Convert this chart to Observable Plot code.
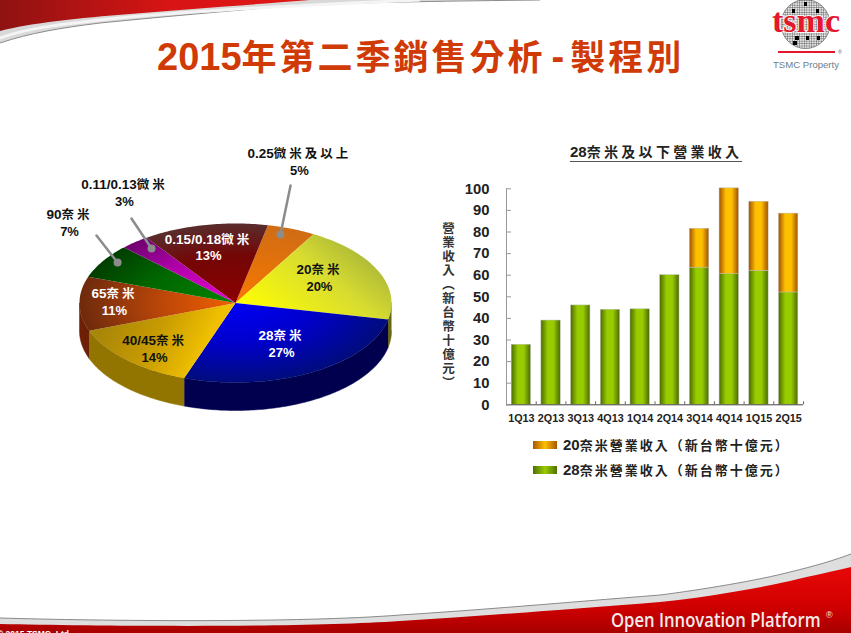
<!DOCTYPE html>
<html lang="zh-Hant">
<head>
<meta charset="utf-8">
<script src="https://cdn.jsdelivr.net/npm/d3@7"></script>
<script src="https://cdn.jsdelivr.net/npm/@observablehq/plot@0.6"></script>
<style>
  html, body { margin: 0; padding: 0; background: #fff; }
  #page {
    position: relative; width: 851px; height: 633px; overflow: hidden; background: #fff;
    font-family: "Liberation Sans", "Noto Sans CJK TC", sans-serif; font-weight: 700; color: #222;
  }
  #page > * { position: absolute; }
  #titulo { left: 157px; top: 37px; margin: 0; font-size: 38px; line-height: 40px; color: #cf3a06; white-space: nowrap; }
  #sub { left: 570px; top: 143px; width: 172px; font-size: 15px; line-height: 18px; color: #222; white-space: nowrap; border-bottom: 1px solid #555; }
  #ylabel { left: 440px; top: 222px; writing-mode: vertical-rl; font-size: 12.5px; letter-spacing: 1.5px; line-height: 14px; color: #333; white-space: nowrap; font-weight: 700; }
  .ley { left: 533px; width: 300px; height: 20px; font-size: 15px; line-height: 20px; white-space: nowrap; color: #222; }
  .ley i { position: absolute; left: 0; top: 6px; width: 24px; height: 8px; }
  .ley span.t { position: absolute; left: 30px; top: 0; }
</style>
</head>
<body>
<div id="page">
  <svg id="deco" width="851" height="633" style="left:0;top:0">
    <defs>
      <linearGradient id="rojoTop" x1="0" x2="1" y1="0" y2="0">
        <stop offset="0" stop-color="#8f1212"/><stop offset=".55" stop-color="#d81414"/><stop offset="1" stop-color="#e01616"/>
      </linearGradient>
      <linearGradient id="rojoPie" x1="0" x2="0" y1="0" y2="1">
        <stop offset="0" stop-color="#e80808"/><stop offset=".6" stop-color="#d00000"/><stop offset="1" stop-color="#a80000"/>
      </linearGradient>
      <pattern id="rejilla" width="2.4" height="2.4" patternUnits="userSpaceOnUse">
        <rect width="2.4" height="2.4" fill="#e8e8e8"/>
        <path d="M0,0H2.4M0,0V2.4" stroke="#333" stroke-width=".7"/>
      </pattern>
    </defs>
    <!-- cabecera -->
    <path d="M0,43 C30,33 60,28 100,23 C170,16 240,10 300,5 C380,2 450,1 540,0 L0,0 Z" fill="#d8d8d8"/>
    <path d="M0,43 C30,33 60,28 100,23 C170,16 240,10 300,5 C380,2 450,1 540,0" fill="none" stroke="#8c8c8c" stroke-width="1"/>
    <path d="M0,38 C30,27 70,23 130,17 C210,10 300,5 420,0" fill="none" stroke="#f4f4f4" stroke-width="3"/>
    <path d="M0,31 C30,23 80,18 130,14 C190,9 260,4 310,0 L0,0 Z" fill="url(#rojoTop)"/>
    <!-- pie -->
    <path d="M0,618 C100,621 300,623 400,615 C480,610 560,603 660,595 C700,590 760,580 790,572 C815,566 835,560 851,554 L851,633 L0,633 Z" fill="#dedede"/>
    <path d="M0,618 C100,621 300,623 400,615 C480,610 560,603 660,595 C700,590 760,580 790,572 C815,566 835,560 851,554" fill="none" stroke="#8a8a8a" stroke-width="1"/>
    <path d="M0,624 C100,626 300,628 400,621 C480,616 560,610 660,602 C700,598 760,588 790,581 C815,575 835,571 851,567 L851,633 L0,633 Z" fill="url(#rojoPie)"/>
    <text x="-3" y="637" fill="#fff" font-size="8.5" font-weight="700">© 2015 TSMC, Ltd</text>
    <text transform="translate(611,627) scale(.85,1)" fill="#f4eaea" font-family="Open Sans" font-size="19.6" font-weight="600">Open Innovation Platform</text>
    <text x="826" y="618" fill="#f4eaea" font-size="9" font-weight="400">®</text>
    <!-- logo -->
    <ellipse cx="805.5" cy="24" rx="24.5" ry="24.5" fill="url(#rejilla)" stroke="#555" stroke-width=".6"/>
    <g fill="#000">
      <rect x="804" y="2" width="3" height="4"/><rect x="816" y="9" width="3" height="4"/><rect x="792" y="9" width="3" height="4"/>
      <rect x="795" y="36" width="4" height="4"/><rect x="793" y="41" width="4" height="4"/><rect x="806" y="36" width="3" height="4"/><rect x="817" y="36" width="3" height="4"/>
    </g>
    <text x="772" y="32" font-family="Liberation Serif" font-weight="700" font-size="33" fill="#e3172d" stroke="#fff" stroke-width="1.6" paint-order="stroke" textLength="68" lengthAdjust="spacingAndGlyphs">tsmc</text>
    <rect x="778" y="51" width="57" height="2" fill="#e3172d"/>
    <text x="838" y="54" font-size="5" fill="#555" font-weight="400">®</text>
    <text x="773" y="68" font-size="9.6" fill="#6d7e8a" font-weight="400" textLength="66">TSMC Property</text>
  </svg>

  <h1 id="titulo">2015年第二季銷售分析-製程別</h1>
  <div id="sub">28奈米及以下營業收入</div>
  <div id="ylabel">營業收入（新台幣十億元）</div>
  <div id="tarta" style="left:0;top:130px"></div>
  <div id="barras" style="left:430px;top:170px"></div>
  <div class="ley" style="top:435px"><i style="background:linear-gradient(90deg,#a85600,#ffc000 50%,#a85600)"></i><span class="t" id="ley20"></span></div>
  <div class="ley" style="top:460px"><i style="background:linear-gradient(90deg,#4f7000,#99cc00 50%,#4f7000)"></i><span class="t" id="ley28"></span></div>
</div>

<script>
  // Tarta: reparto por proceso, en sentido horario desde 0.25 micras
  const NODOS = ["0.25微米及以上", "20奈米", "28奈米", "40/45奈米", "65奈米", "90奈米", "0.11/0.13微米", "0.15/0.18微米"];
  const CUOTAS = [5, 20, 27, 14, 11, 7, 3, 13];

  // Barras
  const TRIMESTRES = ["1Q13", "2Q13", "3Q13", "4Q13", "1Q14", "2Q14", "3Q14", "4Q14", "1Q15", "2Q15"];
  const REV_28 = [27.8, 39, 46, 44, 44.2, 60, 63.5, 60.5, 62, 52];
  const REV_20 = [0, 0, 0, 0, 0, 0, 18, 39.7, 32, 36.5];
  const TICKS_Y = [0, 10, 20, 30, 40, 50, 60, 70, 80, 90, 100];
  const LEYENDA_20 = "20奈米營業收入（新台幣十億元）";
  const LEYENDA_28 = "28奈米營業收入（新台幣十億元）";

  // Estilo de la tarta, por porción
  const INICIO = 12;      // grados
  const GROSOR = 0.352;   // canto, en radios verticales
  const COLOR_TEXTO = ["#111", "#111", "#fff", "#111", "#fff", "#111", "#111", "#fff"];
  const POS_ETIQUETA = [[.41, 1.767], [.538, .308], [.295, -.522], [-.519, -.585], [-.776, .006], [-1.064, 1], [-.712, 1.377], [-.173, .694]];
  const GUIAS = { 0: [[.288, .862], [.353, 1.478]], 5: [[-.756, .509], [-.891, .849]], 6: [[-.538, .686], [-.667, 1.063]] };
  const CANTOS = ["#8a4a08", "#66660f", "#00004f", "#927400", "#6e2006", "#003000", "#600060", "#500000"];

  const CJK = /([\u3000-\u9fff\uff00-\uffef]+)/;

  // Separa los tramos CJK en tspans para darles su propio cuerpo y espaciado
  function espaciarSvg(el, size, gap) {
    const partes = el.textContent.split(CJK).filter((p) => p);
    el.textContent = "";
    partes.forEach((p) => {
      const t = document.createElementNS("http://www.w3.org/2000/svg", "tspan");
      t.textContent = p;
      if (CJK.test(p)) { t.setAttribute("font-size", size); t.setAttribute("letter-spacing", gap); }
      el.appendChild(t);
    });
  }

  function espaciarHtml(el, texto, size, gap) {
    el.innerHTML = "";
    texto.split(CJK).filter((p) => p).forEach((p) => {
      const s = document.createElement("span");
      s.textContent = p;
      if (CJK.test(p)) { s.style.fontSize = size + "px"; s.style.letterSpacing = gap + "px"; }
      if (p === "-") s.style.padding = "0 6px";
      el.appendChild(s);
    });
  }

  function punto(a, caida) {
    const r = a * Math.PI / 180;
    return { x: Math.sin(r), y: Math.cos(r) - (caida || 0) };
  }

  function arco(a0, a1, caida) {
    const n = Math.max(2, Math.ceil(Math.abs(a1 - a0)));
    return d3.range(n + 1).map((i) => punto(a0 + (a1 - a0) * i / n, caida));
  }

  function gradienteRadial(defs, id, stops) {
    const g = defs.append("radialGradient").attr("id", id).attr("gradientUnits", "userSpaceOnUse")
      .attr("cx", 0).attr("cy", 0).attr("r", 156)
      .attr("gradientTransform", "translate(235,172.5) scale(1,.51)");
    stops.forEach(([o, c]) => g.append("stop").attr("offset", o).attr("stop-color", c));
  }

  function gradienteLineal(defs, id, x1, y1, x2, y2, stops) {
    const g = defs.append("linearGradient").attr("id", id).attr("gradientUnits", "userSpaceOnUse")
      .attr("x1", x1).attr("y1", y1).attr("x2", x2).attr("y2", y2);
    stops.forEach(([o, c]) => g.append("stop").attr("offset", o).attr("stop-color", c));
  }

  function defsTarta() {
    const defs = d3.create("svg:defs");
    gradienteRadial(defs, "s0", [[0, "#f87800"], [1, "#d06c14"]]);
    gradienteLineal(defs, "s1", 340, 75, 250, 185, [[0, "#98a83c"], [.45, "#d8dc30"], [1, "#ffff00"]]);
    gradienteRadial(defs, "s2", [[0, "#0000f5"], [.5, "#0000cc"], [1, "#000c7c"]]);
    gradienteLineal(defs, "s3", 100, 200, 190, 245, [[0, "#a88608"], [.5, "#c69a02"], [1, "#f0c000"]]);
    gradienteRadial(defs, "s4", [[0, "#f06000"], [.45, "#c04808"], [1, "#6e2a0c"]]);
    gradienteRadial(defs, "s5", [[0, "#008400"], [.6, "#006600"], [1, "#003e00"]]);
    gradienteRadial(defs, "s6", [[0, "#e800d8"], [.6, "#b000a8"], [1, "#700070"]]);
    gradienteRadial(defs, "s7", [[0, "#8c0000"], [.6, "#740606"], [1, "#5a2c2c"]]);
    return defs.node();
  }

  function dibujarTarta() {
    const bordes = d3.cumsum(CUOTAS).map((c) => INICIO + c * 3.6);
    const porciones = NODOS.map((nombre, i) => ({
      nombre, i,
      pct: CUOTAS[i] + "%",
      a0: i ? bordes[i - 1] : INICIO,
      a1: bordes[i],
      lx: POS_ETIQUETA[i][0],
      ly: POS_ETIQUETA[i][1],
      color: COLOR_TEXTO[i],
    }));

    // Canto visible: solo la mitad delantera de la elipse
    const cantos = porciones.flatMap((p) => {
      const a0 = Math.max(p.a0, 90), a1 = Math.min(p.a1, 270);
      if (a1 <= a0) return [];
      return Plot.line([...arco(a0, a1), ...arco(a1, a0, GROSOR)], {
        x: "x", y: "y", fill: CANTOS[p.i], stroke: CANTOS[p.i], strokeWidth: 0.5,
      });
    });

    const caras = porciones.map((p) =>
      Plot.line([{ x: 0, y: 0 }, ...arco(p.a0, p.a1), { x: 0, y: 0 }], {
        x: "x", y: "y", fill: `url(#s${p.i})`, stroke: "none",
      })
    );

    const guias = Object.values(GUIAS).map(([a, b]) =>
      Plot.line([{ x: a[0], y: a[1] }, { x: b[0], y: b[1] }], { x: "x", y: "y", stroke: "#8c8c8c", strokeWidth: 2.5 })
    );
    const puntos = Plot.dot(Object.values(GUIAS).map(([a]) => ({ x: a[0], y: a[1] })), {
      x: "x", y: "y", r: 4, fill: "#8c8c8c", stroke: "none",
    });

    const svg = Plot.plot({
      width: 420, height: 300,
      margin: 0,
      style: { background: "transparent", overflow: "visible", fontFamily: '"Liberation Sans","Noto Sans CJK TC",sans-serif', fontWeight: 700 },
      x: { domain: [-1, 1], range: [79, 391], axis: null },
      y: { domain: [-1, 1], range: [252, 93], axis: null },
      marks: [
        defsTarta,
        ...cantos,
        ...caras,
        ...guias,
        puntos,
        Plot.text(porciones, { x: "lx", y: "ly", text: "nombre", dy: -8.5, fill: "color", fontSize: 13.5, className: "nombre" }),
        Plot.text(porciones, { x: "lx", y: "ly", text: "pct", dy: 8.5, fill: "color", fontSize: 13 }),
      ],
    });
    svg.querySelectorAll(".nombre text").forEach((t) => espaciarSvg(t, 12.5, 3));
    document.getElementById("tarta").appendChild(svg);
  }

  function defsBarras() {
    const defs = d3.create("svg:defs");
    const barra = (id, borde, centro) => {
      const g = defs.append("linearGradient").attr("id", id).attr("x1", 0).attr("x2", 1).attr("y1", 0).attr("y2", 0);
      [[0, borde], [.35, centro], [.65, centro], [1, borde]].forEach(([o, c]) =>
        g.append("stop").attr("offset", o).attr("stop-color", c));
    };
    barra("verde", "#4a6a00", "#99cc00");
    barra("naranja", "#a05000", "#ffc000");
    return defs.node();
  }

  function dibujarBarras() {
    const filas = TRIMESTRES.map((q, i) => ({ q, n28: REV_28[i], n20: REV_20[i] }));
    const PASO = 29.7;

    const svg = Plot.plot({
      width: 400, height: 260,
      marginLeft: 76, marginRight: 27, marginTop: 18.3, marginBottom: 25.7,
      style: { background: "transparent", overflow: "visible", fontFamily: '"Liberation Sans",sans-serif', fontWeight: 700, color: "#222" },
      x: { label: null, domain: TRIMESTRES, paddingInner: 0.35, paddingOuter: 0.175, align: 0.5, round: false },
      y: { label: null, domain: [0, 100] },
      marks: [
        defsBarras,
        Plot.barY(filas, { x: "q", y: "n28", fill: "url(#verde)", stroke: "#b9bfae", strokeWidth: 0.5 }),
        Plot.barY(filas.filter((d) => d.n20 > 0), {
          x: "q", y1: "n28", y2: (d) => d.n28 + d.n20, fill: "url(#naranja)", stroke: "#bdb8a8", strokeWidth: 0.5,
        }),
        Plot.frame({ anchor: "left", stroke: "#999" }),
        Plot.ruleY([0], { stroke: "#444" }),
        Plot.ruleX(TRIMESTRES, { x: (d) => d, y1: 0, y2: 1.4, dx: PASO / 2, stroke: "#666" }),
        Plot.axisY({
          ticks: TICKS_Y, tickSize: -5, tickPadding: 22, stroke: "#999",
          fontSize: 14.8, fill: "#222", label: null,
        }),
        Plot.axisX({
          tickSize: 0, tickPadding: 10, fontSize: 10.8, fill: "#222", label: null,
        }),
      ],
    });
    document.getElementById("barras").appendChild(svg);
  }

  espaciarHtml(document.getElementById("titulo"), "2015年第二季銷售分析-製程別", 35, 3);
  espaciarHtml(document.getElementById("sub"), "28奈米及以下營業收入", 14, 3.3);
  espaciarHtml(document.getElementById("ley20"), LEYENDA_20, 13, 2);
  espaciarHtml(document.getElementById("ley28"), LEYENDA_28, 13, 2);
  dibujarTarta();
  dibujarBarras();
</script>
</body>
</html>
